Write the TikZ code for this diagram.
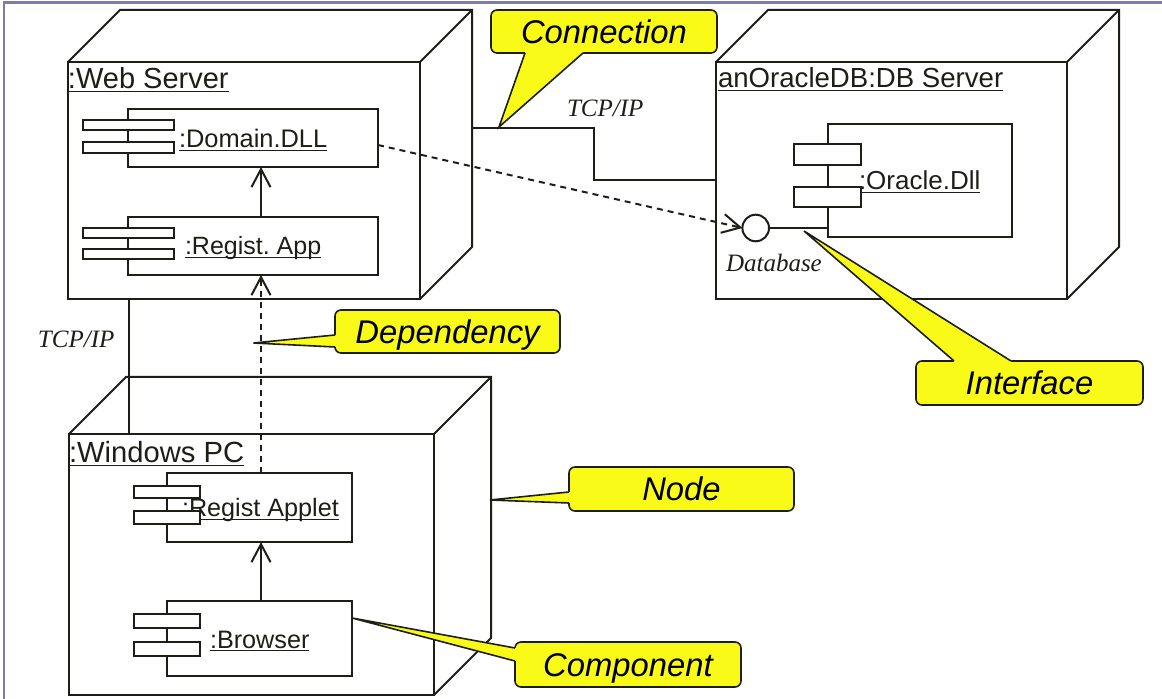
\documentclass[tikz,border=0pt]{standalone}
\usepackage{fontspec}
\setmainfont{Liberation Sans}
\newfontfamily\timesfont{Liberation Serif}
\usetikzlibrary{arrows.meta,calc}
\frenchspacing
\definecolor{ink}{RGB}{30,30,25}
\definecolor{callyellow}{RGB}{250,250,25}
\definecolor{framec}{RGB}{125,125,170}
\newcommand\myul[1]{\setbox0\hbox{#1}\rlap{\rule[-1.7pt]{\wd0}{0.7pt}}\box0}
\newcommand\fs[1]{\fontsize{#1}{#1}\selectfont}
\tikzset{
  nodebox/.style={draw=ink, rectangle, anchor=north west, inner sep=0pt, outer sep=0pt},
  compbox/.style={draw=ink, fill=white, rectangle, anchor=north west, inner sep=0pt, outer sep=0pt},
  tabbox/.style={draw=ink, fill=white, rectangle, anchor=north west, inner sep=0pt, outer sep=0pt},
  lbl/.style={anchor=base west, inner sep=0pt, outer sep=0pt, text=ink},
  italbl/.style={lbl, font=\timesfont\itshape\fs{12.5}},
  callbox/.style={draw=ink, fill=callyellow, rounded corners=3pt, line width=0.8pt,
    anchor=north west, inner sep=0pt, outer sep=0pt, text=black,
    text height=11.7pt, text depth=0pt, font=\itshape\fs{16.4}},
  wedgeline/.style={draw=ink, line width=0.8pt},
  openarrow/.style={-{Straight Barb[length=9pt,width=9.5pt]}},
  dep/.style={dash pattern=on 3pt off 2.5pt},
}
\begin{document}
\begin{tikzpicture}[x=0.5pt,y=-0.5pt,line width=1pt,color=ink]
\useasboundingbox (0,0) rectangle (1162,699);
\fill[white] (0,0) rectangle (1162,699);
\draw[framec,line width=1.2pt] (4,699) -- (4,2.5) -- (1162,2.5);

% ---------- Web Server node ----------
\node[nodebox, minimum width=176pt, minimum height=118.5pt] (ws) at (68,62) {};
\draw (ws.north west) -- ++(52,-52) -- ++(352,0) coordinate (wsBR) -- ++(0,237) -- (ws.south east);
\draw (ws.north east) -- ++(52,-52);
\node[lbl, font=\fs{14.5}] (wslbl) at (68,89) {\myul{:Web Server}};

% ---------- DB Server node ----------
\node[nodebox, minimum width=175.5pt, minimum height=118.5pt] (db) at (716,62) {};
\draw (db.north west) -- ++(52,-52) -- ++(351,0) -- ++(0,237) -- (db.south east);
\draw (db.north east) -- ++(52,-52);
\node[lbl, font=\fs{13.8}] (dblbl) at (718,88) {\myul{anOracleDB:DB Server}};

% ---------- Windows PC node ----------
\node[nodebox, minimum width=182.5pt, minimum height=130.5pt] (wpc) at (69,434) {};
\draw (wpc.north west) -- ++(57,-57) -- ++(365,0) coordinate (wpcBR) -- ++(0,261) -- (wpc.south east);
\draw (wpc.north east) -- ++(57,-57);
\node[lbl, font=\fs{14.6}] (wpclbl) at (69,463) {\myul{:Windows PC}};

% ---------- Components ----------
% Domain.DLL
\node[compbox, minimum width=125pt, minimum height=29pt] (dd) at (128,109) {};
\node[lbl, font=\fs{12.7}] (ddlbl) at (179,148) {\myul{:Domain.DLL}};
\node[tabbox, minimum width=45.5pt, minimum height=5pt] (ddt1) at (83,120) {};
\node[tabbox, minimum width=45.5pt, minimum height=5.5pt] (ddt2) at (83,142) {};
% Regist. App
\node[compbox, minimum width=125pt, minimum height=29pt] (ra) at (128,217) {};
\node[lbl, font=\fs{12.5}] (ralbl) at (185,255) {\myul{:Regist. App}};
\node[tabbox, minimum width=45.5pt, minimum height=5pt] (rat1) at (83,228) {};
\node[tabbox, minimum width=45.5pt, minimum height=5pt] (rat2) at (83,249) {};
% Oracle.Dll
\node[compbox, minimum width=92pt, minimum height=56.5pt] (orc) at (828,124) {};
\node[lbl, font=\fs{13}] (orclbl) at (859,190) {\myul{:Oracle.Dll}};
\node[tabbox, minimum width=33.5pt, minimum height=10.5pt] (orct1) at (794,144) {};
\node[tabbox, minimum width=33.5pt, minimum height=10pt] (orct2) at (794,187) {};
% Regist Applet
\node[compbox, minimum width=92.5pt, minimum height=34.5pt] (app) at (167,473) {};
\node[lbl, font=\fs{12.6}] (applbl) at (182,517) {\myul{:Regist Applet}};
\node[tabbox, minimum width=33pt, minimum height=6pt] (appt1) at (134,486) {};
\node[tabbox, minimum width=33pt, minimum height=6.5pt] (appt2) at (134,511) {};
% Browser
\node[compbox, minimum width=92.5pt, minimum height=37.5pt] (br) at (167,601) {};
\node[lbl, font=\fs{12.6}] (brlbl) at (210,648) {\myul{:Browser}};
\node[tabbox, minimum width=33pt, minimum height=7pt] (brt1) at (134,614) {};
\node[tabbox, minimum width=33pt, minimum height=7pt] (brt2) at (134,642) {};

% ---------- Interface ----------
\node[draw=ink, fill=white, circle, minimum size=13.3pt, inner sep=0pt, outer sep=0pt] (iface) at (755.7,228) {};
\draw (iface.east) -- (iface.east -| orc.west);
\node[italbl] (dbase) at (726,272) {Database};

% ---------- Connectors ----------
\draw[openarrow] ([xshift=4pt]ra.north) -- ([xshift=4pt]dd.south);
\draw[openarrow] ([xshift=0.75pt]br.north) -- ([xshift=0.75pt]app.south);
\draw[openarrow,dep] ([xshift=0.75pt]app.north) -- ([xshift=4pt]ra.south);
\draw[openarrow,dep] ([yshift=-3.5pt]dd.east) -- (iface.west);
\coordinate (wsbot) at ([xshift=30.5pt]ws.south west);
\draw (wsbot) -- (wsbot |- wpc.north);
\coordinate (jog) at (594,128);
\draw (jog -| wsBR) -- (jog) |- (db.west);
\node[italbl] (tcp1) at (567,117) {TCP/IP};
\node[italbl] (tcp2) at (38,348) {TCP/IP};

% ---------- Callouts ----------
% Connection
\node[callbox, minimum width=113pt, minimum height=21.5pt] (conn) at (491,10) {Connection};
\coordinate (conntip) at (499,127);
\coordinate (connb1) at ($(conn.south west)+(34,0)$);
\coordinate (connb2) at ($(conn.south west)+(92,0)$);
\fill[callyellow] (conntip) -- (connb1) -- ($(connb1)+(0,-2.5)$) -- ($(connb2)+(0,-2.5)$) -- (connb2) -- cycle;
\draw[wedgeline] (connb1) -- (conntip) -- (connb2);
% Dependency
\node[callbox, minimum width=112.5pt, minimum height=21.5pt] (depc) at (335,310) {Dependency};
\coordinate (deptip) at (253.5,343);
\coordinate (depb1) at ($(depc.north west)+(0,25)$);
\coordinate (depb2) at ($(depc.north west)+(0,37)$);
\fill[callyellow] (deptip) -- (depb1) -- ($(depb1)+(2.5,0)$) -- ($(depb2)+(2.5,0)$) -- (depb2) -- cycle;
\draw[wedgeline] (depb1) -- (deptip) -- (depb2);
% Interface
\node[callbox, minimum width=113.5pt, minimum height=22pt] (ifc) at (916,361) {Interface};
\coordinate (ifctip) at (804,231);
\coordinate (ifcb1) at ($(ifc.north west)+(38,0)$);
\coordinate (ifcb2) at ($(ifc.north west)+(95,0)$);
\fill[callyellow] (ifctip) -- (ifcb1) -- ($(ifcb1)+(0,2.5)$) -- ($(ifcb2)+(0,2.5)$) -- (ifcb2) -- cycle;
\draw[wedgeline] (ifcb1) -- (ifctip) -- (ifcb2);
% Node
\node[callbox, minimum width=112.5pt, minimum height=22pt] (nodec) at (569,467) {Node};
\coordinate (nodetip) at (490,500);
\coordinate (nodeb1) at ($(nodec.north west)+(0,25)$);
\coordinate (nodeb2) at ($(nodec.north west)+(0,36)$);
\fill[callyellow] (nodetip) -- (nodeb1) -- ($(nodeb1)+(2.5,0)$) -- ($(nodeb2)+(2.5,0)$) -- (nodeb2) -- cycle;
\draw[wedgeline] (nodeb1) -- (nodetip) -- (nodeb2);
% Component
\node[callbox, minimum width=113pt, minimum height=22.5pt] (compc) at (515,642) {Component};
\coordinate (comptip) at (352,618);
\coordinate (compb1) at ($(compc.north west)+(0,6)$);
\coordinate (compb2) at ($(compc.north west)+(0,19)$);
\fill[callyellow] (comptip) -- (compb1) -- ($(compb1)+(2.5,0)$) -- ($(compb2)+(2.5,0)$) -- (compb2) -- cycle;
\draw[wedgeline] (compb1) -- (comptip) -- (compb2);
\end{tikzpicture}
\end{document}
